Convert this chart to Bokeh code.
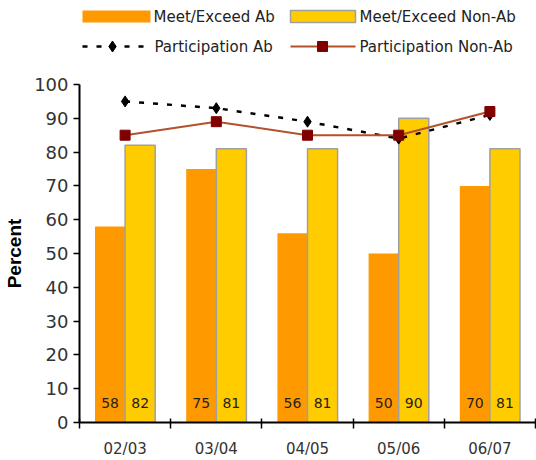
from bokeh.plotting import figure
from bokeh.layouts import column
from bokeh.models import Range1d, FixedTicker, ColumnDataSource
from bokeh.core.properties import value
from bokeh.embed import file_html
from bokeh.resources import INLINE

# ---- data ----
years = ["02/03", "03/04", "04/05", "05/06", "06/07"]
meet_ab = [58, 75, 56, 50, 70]
meet_nonab = [82, 81, 81, 90, 81]
part_ab = [95, 93, 89, 84, 91]
part_nonab = [85, 89, 85, 85, 92]
y_ticks = [0, 10, 20, 30, 40, 50, 60, 70, 80, 90, 100]

ORANGE = "#FF9900"
YELLOW = "#FFCC00"
BORDER = "#A0A0A0"
NONAB_LINE = "#B4502A"
NONAB_MARK = "#800000"
FONT = "DejaVu Sans"

centers = [i + 0.5 for i in range(len(years))]
bounds = list(range(len(years) + 1))
off = 0.165
bw = 0.33

src = ColumnDataSource(dict(
    x=centers,
    xa=[c - off for c in centers],
    xn=[c + off for c in centers],
    meet_ab=meet_ab,
    meet_nonab=meet_nonab,
    part_ab=part_ab,
    part_nonab=part_nonab,
    lab_ab=[str(v) for v in meet_ab],
    lab_nonab=[str(v) for v in meet_nonab],
    zero=[0] * len(years),
))

FL = 79  # frame left (page px), shared by both figures

# ---- legend figure (page-pixel coordinates, frame aligned with the chart) ----
leg = figure(width=536, height=60, output_backend="svg", toolbar_location=None,
             x_range=Range1d(FL, 535), y_range=Range1d(60, 0),
             x_axis_type=None, y_axis_type=None,
             min_border_left=FL, min_border_right=1, min_border_top=0, min_border_bottom=0)
leg.outline_line_color = None
leg.grid.visible = False
leg.quad(left=[82], right=[150], top=[10], bottom=[22], fill_color=ORANGE, line_color=None)
leg.quad(left=[290], right=[355], top=[10], bottom=[22], fill_color=YELLOW,
         line_color=BORDER, line_width=1.5)
leg.line(x=[82, 150], y=[46, 46], line_color="black", line_width=2.5, line_dash="5 9")
leg.scatter(x=[112], y=[46], marker="diamond", size=11, fill_color="black", line_color="black")
leg.line(x=[290, 355], y=[46, 46], line_color=NONAB_LINE, line_width=2)
leg.scatter(x=[322], y=[46], marker="square", size=10, fill_color=NONAB_MARK, line_color=NONAB_MARK)
leg.text(x=[153, 359, 154, 359], y=[16, 16, 46, 46],
         text=["Meet/Exceed Ab", "Meet/Exceed Non-Ab", "Participation Ab", "Participation Non-Ab"],
         text_font=value(FONT), text_font_size="15px", text_color="#222222",
         text_baseline="middle", text_align="left")

# ---- main chart ----
p = figure(width=536, height=400, output_backend="svg", toolbar_location=None,
           x_range=Range1d(0, len(years)), y_range=Range1d(0, 100),
           min_border_left=FL, min_border_right=1, min_border_top=24, min_border_bottom=38)
p.outline_line_color = None
p.grid.visible = False

p.vbar(x="xa", top="meet_ab", width=bw, source=src, fill_color=ORANGE, line_color=None)
p.vbar(x="xn", top="meet_nonab", width=bw, source=src, fill_color=YELLOW,
       line_color=BORDER, line_width=1.5)

p.text(x="xa", y="zero", text="lab_ab", source=src, y_offset=-20,
       text_font=value(FONT), text_font_size="14px", text_color="#222222",
       text_align="center", text_baseline="middle")
p.text(x="xn", y="zero", text="lab_nonab", source=src, y_offset=-20,
       text_font=value(FONT), text_font_size="14px", text_color="#222222",
       text_align="center", text_baseline="middle")

p.line(x="x", y="part_ab", source=src, line_color="black", line_width=2.5, line_dash="5 9")
p.scatter(x="x", y="part_ab", source=src, marker="diamond", size=11,
          fill_color="black", line_color="black")
p.line(x="x", y="part_nonab", source=src, line_color=NONAB_LINE, line_width=2)
p.scatter(x="x", y="part_nonab", source=src, marker="square", size=10,
          fill_color=NONAB_MARK, line_color=NONAB_MARK)

# y axis
ya = p.yaxis[0]
ya.ticker = FixedTicker(ticks=y_ticks)
ya.minor_tick_line_color = None
ya.major_tick_in = 0
ya.major_tick_out = 6
ya.major_tick_line_width = 1.5
ya.major_tick_line_color = "black"
ya.axis_line_color = "black"
ya.axis_line_width = 2
ya.major_label_standoff = 5
ya.major_label_text_font = FONT
ya.major_label_text_font_size = "18px"
ya.major_label_text_color = "#333333"
ya.axis_label = "Percent"
ya.axis_label_text_font = "Liberation Sans"
ya.axis_label_text_font_style = "bold"
ya.axis_label_text_font_size = "19px"
ya.axis_label_text_color = "black"
ya.axis_label_standoff = 6

# x axis: labels at centers, boundary ticks as minor ticks
xa = p.xaxis[0]
xa.ticker = FixedTicker(ticks=centers, minor_ticks=bounds)
xa.major_label_overrides = {c: y for c, y in zip(centers, years)}
xa.major_tick_in = 0
xa.major_tick_out = 0
xa.minor_tick_in = 4
xa.minor_tick_out = 6
xa.minor_tick_line_color = "black"
xa.minor_tick_line_width = 1.5
xa.axis_line_color = "black"
xa.axis_line_width = 2
xa.major_label_standoff = 11
xa.major_label_text_font = FONT
xa.major_label_text_font_size = "15px"
xa.major_label_text_color = "#333333"

layout = column(leg, p, spacing=0)
open("out.html", "w").write(file_html(layout, INLINE))
